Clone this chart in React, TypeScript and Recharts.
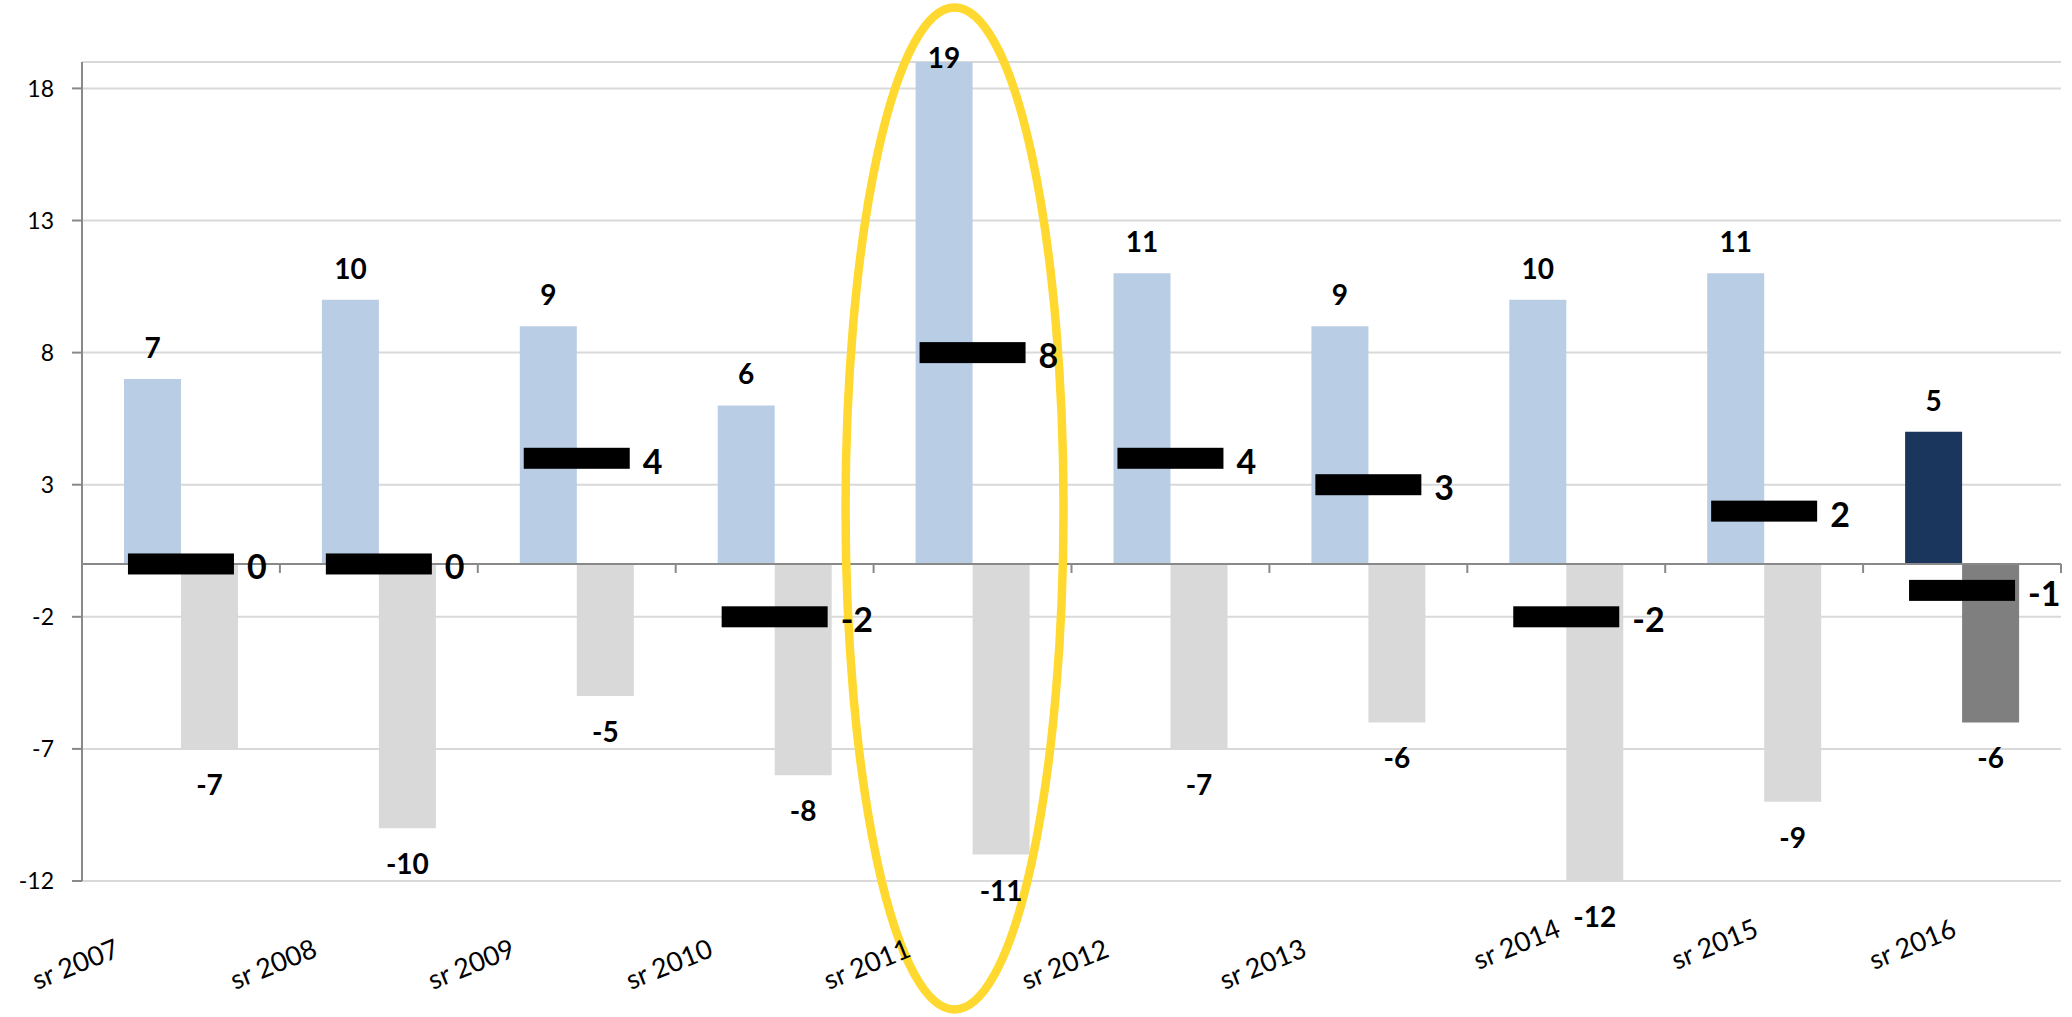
import React from "react";
import {
  ComposedChart,
  Bar,
  Line,
  XAxis,
  YAxis,
  CartesianGrid,
  Cell,
  LabelList,
  ReferenceLine,
  ReferenceDot,
} from "recharts";

const categories = ["sr 2007", "sr 2008", "sr 2009", "sr 2010", "sr 2011", "sr 2012", "sr 2013", "sr 2014", "sr 2015", "sr 2016"];
const positiveValues = [7, 10, 9, 6, 19, 11, 9, 10, 11, 5];
const negativeValues = [-7, -10, -5, -8, -11, -7, -6, -12, -9, -6];
const netValues = [0, 0, 4, -2, 8, 4, 3, -2, 2, -1];
const yTicks = [-12, -7, -2, 3, 8, 13, 18];
const highlightCategory = "sr 2011";

const data = categories.map((cat, i) => ({
  cat,
  pos: positiveValues[i],
  neg: negativeValues[i],
  net: netValues[i],
}));

const FONT = "Lato, 'Open Sans', sans-serif";
const lastIdx = categories.length - 1;

const BarValueLabel = (props: any) => {
  const { x, y, width, height, value } = props;
  if (value === undefined || value === null) return null;
  const cx = x + width / 2;
  const top = Math.min(y, y + height);
  const bottom = Math.max(y, y + height);
  const cy = value >= 0 ? Math.max(top - 32, 57) : bottom + 35;
  return (
    <text
      x={cx}
      y={cy}
      textAnchor="middle"
      dominantBaseline="central"
      fontFamily={FONT}
      fontWeight={700}
      fontSize={28}
      fill="#000"
    >
      {value}
    </text>
  );
};

const NetLabel = (props: any) => {
  const { x, y, value } = props;
  return (
    <text
      x={x + 53 + 13}
      y={y + 2}
      textAnchor="start"
      dominantBaseline="central"
      fontFamily={FONT}
      fontWeight={700}
      fontSize={34}
      fill="#000"
    >
      {value}
    </text>
  );
};

const DashDot = (props: any) => {
  const { cx, cy, index } = props;
  if (cx == null || cy == null) return <g key={`d${index}`} />;
  return <rect key={`d${index}`} x={cx - 53} y={cy - 10.5} width={106} height={21} fill="#000" />;
};

const XTick = (props: any) => {
  const { x, y, payload, index } = props;
  const late = index >= 7;
  const ax = x + (late ? -4 : -60);
  const ay = y + (late ? 55 : 75);
  return (
    <text
      x={ax}
      y={ay}
      textAnchor="end"
      transform={`rotate(-22 ${ax} ${ay})`}
      fontFamily={FONT}
      fontSize={27}
      fill="#000"
    >
      {payload.value}
    </text>
  );
};

const ZeroAxis = (props: any) => {
  const { x1, x2, y1, y2 } = props;
  if (x1 == null) return <g />;
  const n = categories.length;
  const ticks = [];
  for (let i = 0; i <= n; i++) {
    const tx = x1 + ((x2 - x1) * i) / n;
    ticks.push(<line key={i} x1={tx} x2={tx} y1={y1} y2={y1 + 9} stroke="#898989" strokeWidth={2} />);
  }
  return (
    <g>
      <line x1={x1} x2={x2} y1={y1} y2={y2} stroke="#898989" strokeWidth={2} />
      {ticks}
    </g>
  );
};

const Highlight = (props: any) => {
  const { cx, cy } = props;
  if (cx == null || cy == null) return <g />;
  return <ellipse cx={cx - 18} cy={cy} rx={109} ry={501} fill="none" stroke="#FFD92F" strokeWidth={8.5} />;
};

export default function App() {
  return (
    <div style={{ position: "absolute", left: 0, top: 0, width: 2072, height: 1017, background: "#fff" }}>
      <ComposedChart
        width={2072}
        height={1017}
        data={data}
        margin={{ top: 62, right: 11, left: 0, bottom: 0 }}
        barGap={0}
      >
        <CartesianGrid horizontal vertical={false} stroke="#D9D9D9" strokeWidth={2} />
        <XAxis
          dataKey="cat"
          axisLine={false}
          tickLine={false}
          tickSize={0}
          tickMargin={0}
          height={136}
          interval={0}
          tick={<XTick />}
        />
        <YAxis
          type="number"
          domain={[-12, 19]}
          ticks={yTicks}
          width={82}
          axisLine={{ stroke: "#898989", strokeWidth: 2 }}
          tickLine={{ stroke: "#898989", strokeWidth: 2 }}
          tickSize={10}
          tickMargin={18}
          tick={{ fontFamily: FONT, fontSize: 23, fill: "#000" }}
          allowDataOverflow
        />
        <Bar dataKey="pos" barSize={57} isAnimationActive={false}>
          {data.map((d, i) => (
            <Cell key={i} fill={i === lastIdx ? "#1A365D" : "#B9CDE5"} />
          ))}
          <LabelList dataKey="pos" content={<BarValueLabel />} />
        </Bar>
        <Bar dataKey="neg" barSize={57} isAnimationActive={false}>
          {data.map((d, i) => (
            <Cell key={i} fill={i === lastIdx ? "#7F7F7F" : "#D9D9D9"} />
          ))}
          <LabelList dataKey="neg" content={<BarValueLabel />} />
        </Bar>
        <ReferenceLine y={0} shape={<ZeroAxis />} ifOverflow="visible" />
        <Line
          dataKey="net"
          stroke="none"
          dot={DashDot}
          activeDot={false}
          isAnimationActive={false}
          legendType="none"
        >
          <LabelList dataKey="net" content={<NetLabel />} />
        </Line>
        <ReferenceDot x={highlightCategory} y={2.1} ifOverflow="visible" shape={<Highlight />} />
      </ComposedChart>
    </div>
  );
}
